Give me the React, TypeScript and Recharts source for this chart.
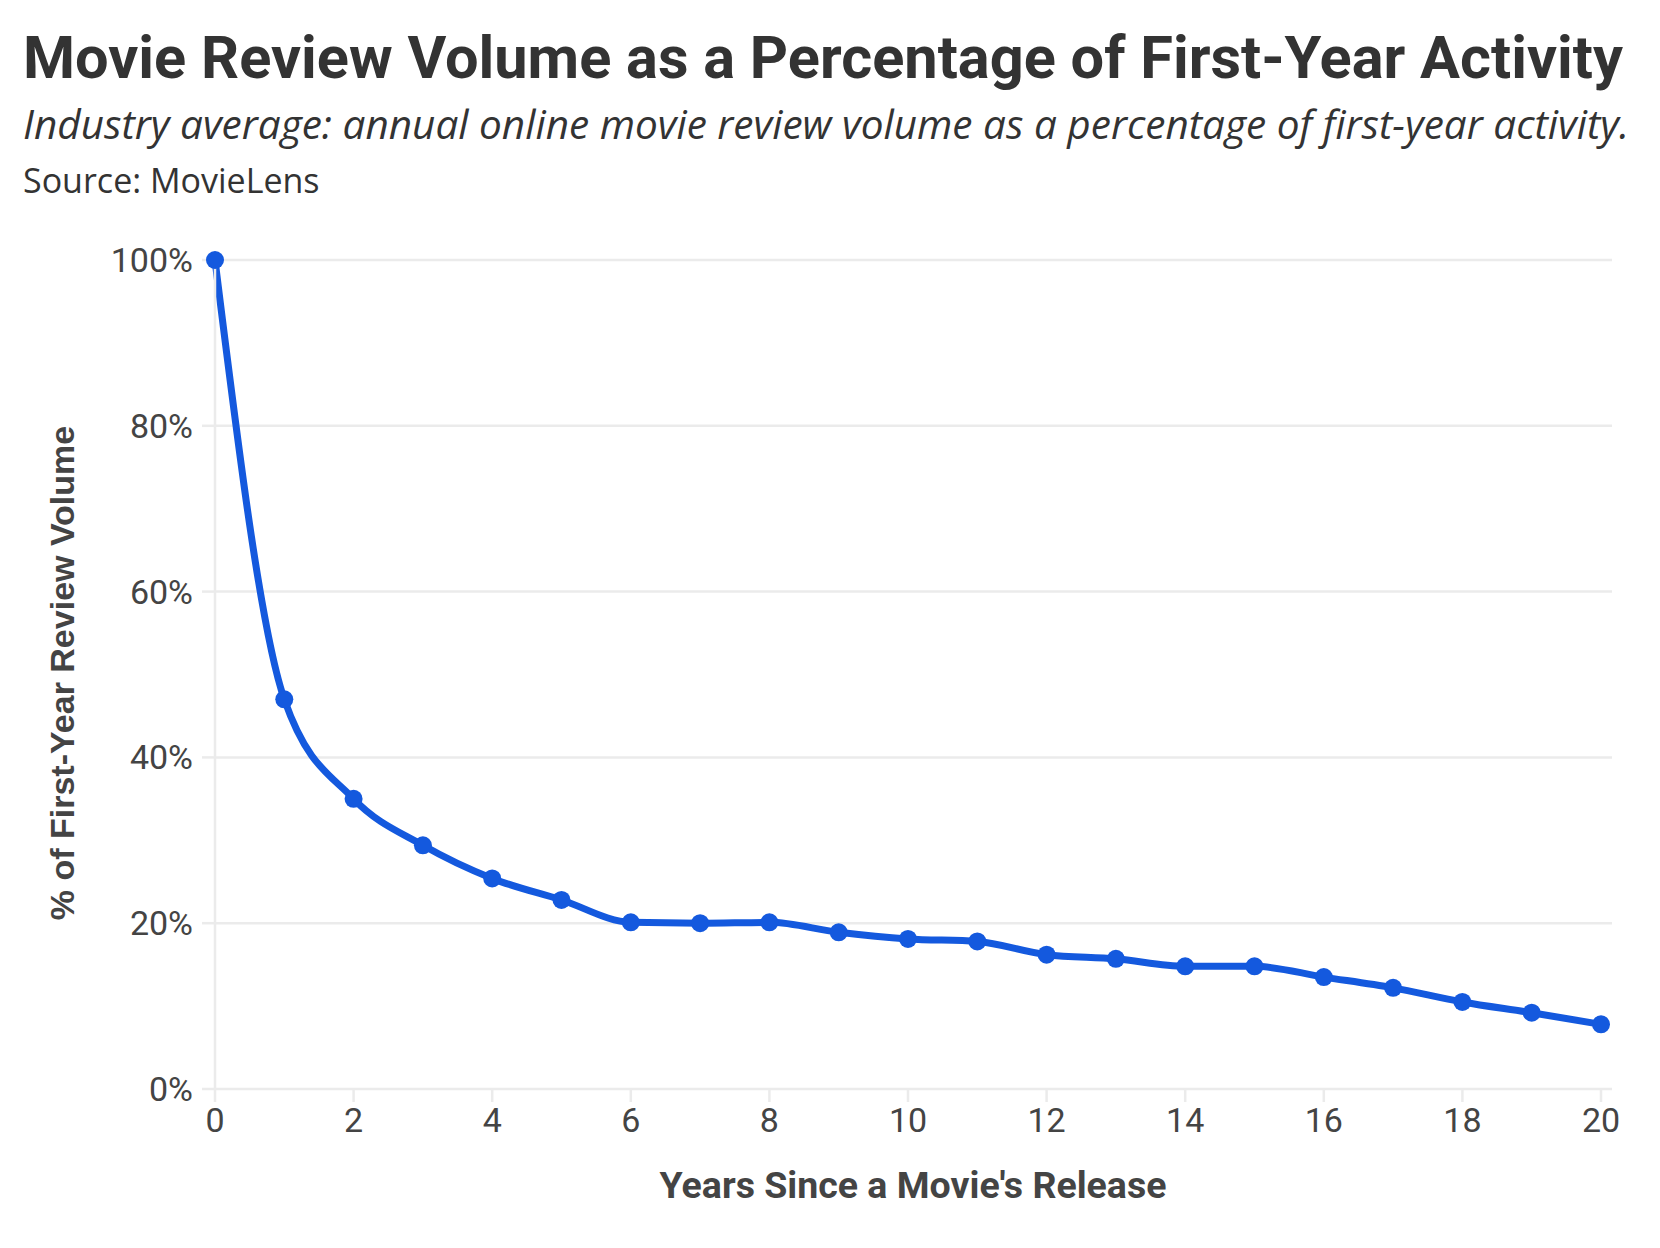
import { LineChart, Line, XAxis, YAxis, CartesianGrid } from "recharts";

const years = [0, 1, 2, 3, 4, 5, 6, 7, 8, 9, 10, 11, 12, 13, 14, 15, 16, 17, 18, 19, 20];
const reviewShare = [
  100, 47, 35, 29.4, 25.4, 22.8, 20.1, 20.0, 20.1, 18.9, 18.1, 17.8, 16.2, 15.7, 14.8, 14.8, 13.5,
  12.2, 10.5, 9.2, 7.8,
];
const xTicks = [0, 2, 4, 6, 8, 10, 12, 14, 16, 18, 20];
const yTicks = [0, 20, 40, 60, 80, 100];

const chartData = years.map((year, i) => ({ year, share: reviewShare[i] }));

const blue = "#1459DE";
const grid = "#ebebeb";
const font = "Roboto, 'Noto Sans', sans-serif";
const wideFont = "'Open Sans', 'Noto Sans', sans-serif";

export default function App() {
  return (
    <div style={{ position: "absolute", left: 0, top: 0, width: 1660, height: 1248, background: "#fff" }}>
      <LineChart
        width={1660}
        height={1248}
        data={chartData}
        margin={{ top: 260, right: 48, bottom: 99, left: 95 }}
      >
        <CartesianGrid vertical={false} stroke={grid} strokeWidth={2.5} />
        <XAxis
          dataKey="year"
          type="number"
          domain={[0, 20]}
          ticks={xTicks}
          padding={{ left: 0, right: 11 }}
          height={60}
          tickSize={13}
          tickMargin={6}
          axisLine={false}
          tickLine={{ stroke: grid, strokeWidth: 2.5 }}
          tick={{ fill: "#444", fontSize: 34, fontFamily: font }}
        />
        <YAxis
          domain={[0, 100]}
          ticks={yTicks}
          width={120}
          tickFormatter={(v) => `${v}%`}
          tickSize={13}
          tickMargin={9}
          axisLine={{ stroke: grid, strokeWidth: 2.5 }}
          tickLine={{ stroke: grid, strokeWidth: 2.5 }}
          tick={{ fill: "#444", fontSize: 34, fontFamily: font }}
        />
        <Line
          type="monotone"
          dataKey="share"
          stroke={blue}
          strokeWidth={7}
          dot={{ r: 9, fill: blue, stroke: blue, strokeWidth: 0 }}
          activeDot={false}
          isAnimationActive={false}
        />
      </LineChart>

      <svg
        width={1660}
        height={1248}
        style={{ position: "absolute", left: 0, top: 0, pointerEvents: "none" }}
      >
        <text x={23} y={78} fontFamily={font} fontWeight={700} fontSize={59.5} fill="#333">
          Movie Review Volume as a Percentage of First-Year Activity
        </text>
        <text x={23} y={139} fontFamily={wideFont} fontStyle="italic" fontSize={40.5} fill="#333">
          Industry average: annual online movie review volume as a percentage of first-year activity.
        </text>
        <text x={23} y={193} fontFamily={wideFont} fontSize={34} fill="#333">
          Source: MovieLens
        </text>
        <text
          x={913}
          y={1198}
          textAnchor="middle"
          fontFamily={font}
          fontWeight={700}
          fontSize={37.5}
          fill="#444"
        >
          Years Since a Movie's Release
        </text>
        <text
          transform="translate(74 673) rotate(-90)"
          textAnchor="middle"
          fontFamily="'Liberation Sans', Arial, sans-serif"
          fontWeight={700}
          fontSize={34}
          fill="#444"
        >
          % of First-Year Review Volume
        </text>
      </svg>
    </div>
  );
}
